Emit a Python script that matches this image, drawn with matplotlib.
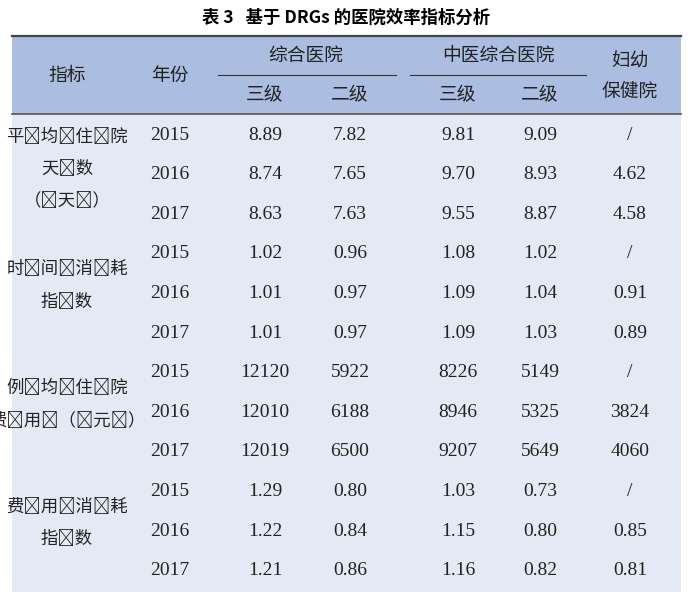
import matplotlib
matplotlib.use("Agg")
import matplotlib.pyplot as plt
from matplotlib.patches import Rectangle

title = "表 3   基于 DRGs 的医院效率指标分析"
indicators = ["平均住院\n天数\n（天）", "时间消耗\n指数", "例均住院\n费用（元）", "费用消耗\n指数"]
years = ["2015", "2016", "2017"]
zh3 = [["8.89", "8.74", "8.63"], ["1.02", "1.01", "1.01"], ["12120", "12010", "12019"], ["1.29", "1.22", "1.21"]]
zh2 = [["7.82", "7.65", "7.63"], ["0.96", "0.97", "0.97"], ["5922", "6188", "6500"], ["0.80", "0.84", "0.86"]]
tcm3 = [["9.81", "9.70", "9.55"], ["1.08", "1.09", "1.09"], ["8226", "8946", "9207"], ["1.03", "1.15", "1.16"]]
tcm2 = [["9.09", "8.93", "8.87"], ["1.02", "1.04", "1.03"], ["5149", "5325", "5649"], ["0.73", "0.80", "0.82"]]
mch = [["/", "4.62", "4.58"], ["/", "0.91", "0.89"], ["/", "3824", "4060"], ["/", "0.85", "0.81"]]

CJK = "Noto Sans CJK SC"
SERIF = "Liberation Serif"
fig = plt.figure(figsize=(6.92, 6.02), dpi=100)
ax = fig.add_axes([0, 0, 1, 1])
ax.set_xlim(0, 692); ax.set_ylim(602, 0); ax.axis("off")

L, R = 12, 681
ax.add_patch(Rectangle((L, 36), R - L, 78, color="#abbde0", lw=0))
ax.add_patch(Rectangle((L, 114), R - L, 478, color="#e4eaf5", lw=0))
ax.plot([L, R], [36, 36], color="#444444", lw=1.6)
ax.plot([L, R], [114, 114], color="#555555", lw=1.2)
ax.plot([218, 396], [75, 75], color="#333333", lw=0.8)
ax.plot([410, 586], [75, 75], color="#333333", lw=0.8)

ax.text(346, 18, title, ha="center", va="center", fontsize=12.5, fontweight="bold", family=CJK)
hk = dict(ha="center", va="center", fontsize=13.5, family=CJK, color="#222222", fontweight="medium")
ax.text(67, 75, "指标", **hk)
ax.text(170, 75, "年份", **hk)
ax.text(306, 55, "综合医院", **hk)
ax.text(498, 55, "中医综合医院", **hk)
ax.text(265, 95, "三级", **hk); ax.text(350, 95, "二级", **hk)
ax.text(458, 95, "三级", **hk); ax.text(540, 95, "二级", **hk)
ax.text(630, 61, "妇幼", **hk); ax.text(630, 91, "保健院", **hk)

xs = [265, 350, 458, 540, 630]
step = 39.6
for g in range(4):
    for i in range(3):
        y = 135 + (g * 3 + i) * step
        ax.text(170, y, years[i], ha="center", va="center", fontsize=14, family=SERIF, color="#222222")
        for x, col in zip(xs, [zh3, zh2, tcm3, tcm2, mch]):
            ax.text(x, y, col[g][i], ha="center", va="center", fontsize=14, family=SERIF, color="#222222")
    yc = 135 + (g * 3 + 1) * step
    lines = indicators[g].split("\n")
    n = len(lines)
    for k, t in enumerate(lines):
        yy = yc - 6 + (k - (n - 1) / 2) * 32 if n == 3 else yc - 8 + (k - 0.5) * 33
        ax.text(67, yy, "\u2009".join(t), ha="center", va="center", fontsize=12.5,
                family=CJK, color="#222222", fontweight="light")
fig.savefig("out.png", dpi=100)
